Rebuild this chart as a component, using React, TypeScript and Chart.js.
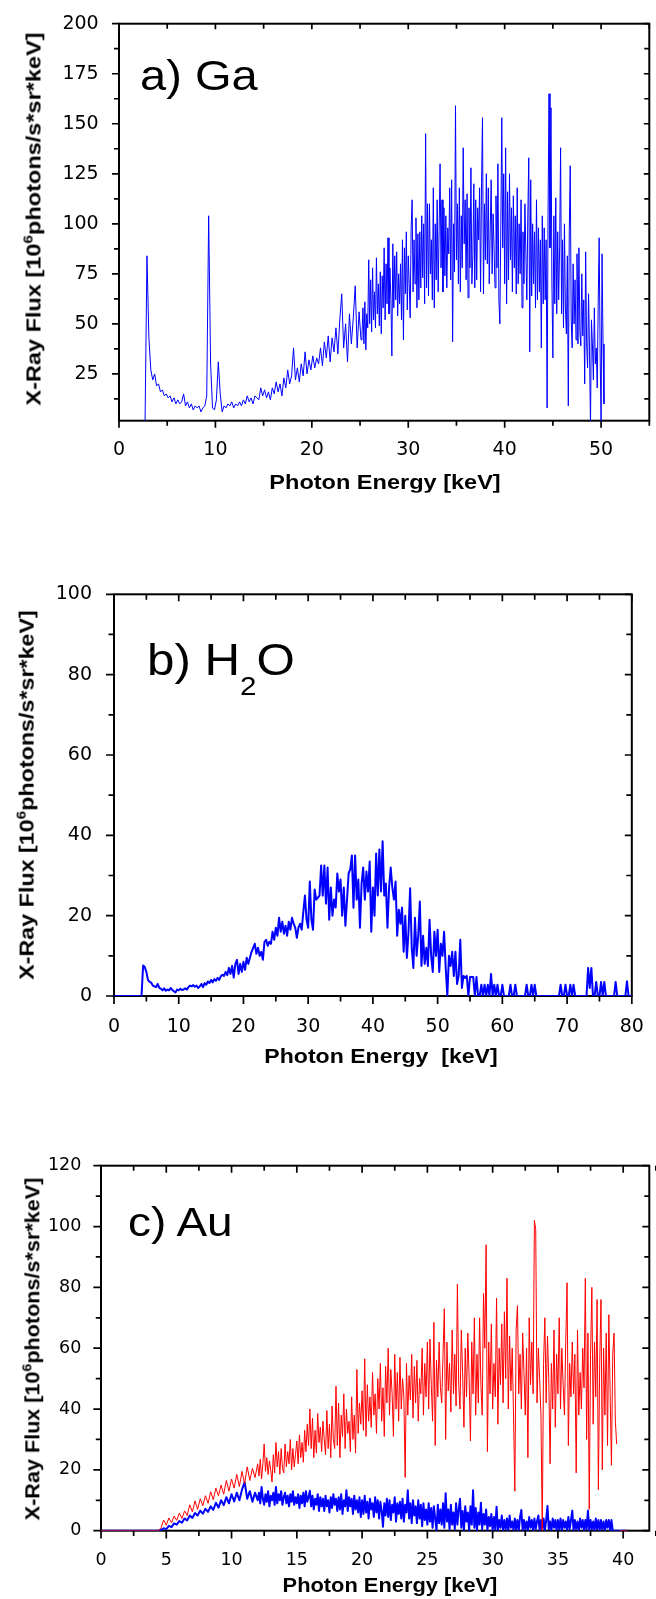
import React, { useEffect, useRef } from "react";
import { Chart, registerables } from "chart.js";

Chart.register(...registerables);

const TEXT_FONT = '"Liberation Sans", Arial, Helvetica, sans-serif';
const TICK_FONT = '"DejaVu Sans", "Liberation Sans", Arial, sans-serif';

// ---------- a) Ga ----------
// low-energy part: 2.7 keV + 0.2 keV steps (up to 25.1 keV)
const GA_LOW_START = 2.7;
const GA_LOW_STEP = 0.2;
const GA_LOW = [
  0, 84, 43, 27, 22, 25, 19, 20, 16, 17,
  14, 15, 13, 14, 11, 13, 10, 12, 10, 11,
  15, 9, 11, 8, 10, 7, 9, 8, 9, 6,
  8, 9, 14, 104, 30, 8, 7, 12, 31, 15,
  6, 9, 8, 10, 9, 11, 8, 10, 9, 11,
  9, 12, 10, 14, 11, 13, 10, 14, 13, 12,
  18, 14, 17, 13, 16, 12, 18, 15, 21, 16,
  20, 14, 23, 18, 27, 20, 24, 38, 22, 28,
  21, 30, 24, 36, 25, 32, 27, 34, 28, 33,
  30, 38, 29, 41, 33, 44, 31, 43, 36, 48,
  35, 52, 65, 38, 50, 31, 55, 40, 53, 69,
  38, 56, 42,
];
// high-energy part: 25.2 keV + 0.1 keV steps (up to 50.3 keV)
const GA_HIGH_START = 25.2;
const GA_HIGH_STEP = 0.1;
const GA_HIGH = [
  44, 58, 40, 61, 37, 55, 48, 82, 50, 72,
  46, 78, 52, 66, 48, 83, 55, 70, 49, 76,
  45, 74, 58, 88, 52, 80, 60, 93, 55, 78,
  62, 34, 90, 58, 84, 62, 86, 54, 75, 60,
  80, 52, 92, 42, 88, 65, 96, 57, 84, 70,
  53, 98, 112, 66, 92, 70, 103, 58, 95, 62,
  96, 68, 104, 73, 100, 60, 145, 68, 110, 64,
  110, 75, 92, 62, 118, 58, 100, 72, 112, 66,
  96, 130, 78, 112, 66, 108, 74, 104, 68, 98,
  85, 118, 72, 122, 41, 100, 76, 159, 82, 110,
  70, 118, 66, 104, 78, 138, 90, 112, 72, 115,
  63, 108, 78, 128, 70, 84, 120, 68, 112, 72,
  108, 92, 118, 66, 120, 153, 65, 110, 82, 125,
  80, 118, 70, 96, 122, 75, 105, 88, 68, 114,
  78, 130, 62, 50, 98, 153, 88, 125, 70, 138,
  60, 116, 72, 125, 82, 108, 66, 114, 78, 104,
  65, 118, 70, 100, 75, 112, 58, 96, 70, 110,
  85, 62, 104, 133, 36, 122, 64, 100, 70, 96,
  58, 112, 62, 98, 66, 92, 38, 104, 60, 98,
  62, 92, 8, 105, 165, 88, 158, 70, 33, 104,
  60, 113, 55, 96, 62, 88, 138, 55, 92, 48,
  100, 58, 45, 84, 9, 96, 129, 52, 38, 80,
  50, 72, 42, 85, 40, 88, 46, 39, 75, 44,
  62, 20, 86, 40, 28, 65, 36, 0, 52, 40,
  22, 58, 30, 38, 18, 60, 93, 35, 0, 85,
  40, 10,
];
const GA_X_TICKS = [0, 10, 20, 30, 40, 50];
const GA_Y_TICKS = [25, 50, 75, 100, 125, 150, 175, 200];

// ---------- b) H2O : 0 keV + 0.25 keV steps ----------
const H2O_START = 0;
const H2O_STEP = 0.25;
const H2O_FLUX = [
  0, 0, 0, 0, 0, 0, 0, 0, 0, 0,
  0, 0, 0, 0, 0, 0, 0, 0, 7.6, 7.2,
  6.0, 4.0, 3.5, 3.3, 2.6, 2.4, 2.2, 3.0, 2.0, 1.8,
  1.4, 1.9, 1.3, 1.6, 1.4, 2.0, 1.5, 1.2, 0.9, 1.6,
  1.4, 1.8, 1.5, 1.6, 1.9, 1.6, 2.2, 2.6, 2.4, 2.7,
  2.3, 2.6, 2.0, 2.4, 3.0, 2.2, 3.2, 2.8, 3.6, 3.2,
  4.0, 3.4, 4.2, 3.8, 4.5, 4.0, 4.9, 5.3, 5.0, 6.0,
  5.2, 7.0, 5.5, 7.5, 4.6, 8.0, 9.0, 5.5, 8.0, 6.0,
  8.5, 6.5, 9.5, 8.0, 9.5, 11.0, 12.0, 13.0, 10.5, 12.0,
  10.0, 11.0, 9.0, 13.5, 14.0, 12.5, 13.5, 13.0, 16.0, 14.0,
  17.0, 15.0, 19.5, 16.0, 18.5, 15.5, 17.5, 15.0, 18.5, 16.5,
  19.5, 18.0, 17.0, 14.5, 17.0, 18.0, 16.5, 21.0, 25.0, 19.0,
  17.0, 28.5, 19.0, 16.5, 26.5, 24.0, 24.5, 25.0, 32.5, 25.0,
  32.5, 23.0, 32.0, 19.0, 27.0, 20.0, 24.0, 22.0, 30.5, 26.0,
  29.0, 20.0, 27.0, 17.5, 24.0, 30.5, 31.5, 35.0, 22.0, 35.0,
  24.0, 29.0, 17.0, 28.0, 32.0, 24.0, 31.0, 26.0, 33.5, 16.0,
  27.0, 20.0, 35.5, 25.0, 36.5, 26.0, 38.5, 25.0, 28.0, 17.0,
  27.0, 32.0, 27.0, 24.0, 28.5, 15.0, 21.5, 18.0, 22.0, 11.0,
  20.0, 9.5, 16.0, 26.8, 12.0, 7.0, 19.5, 10.0, 15.0, 23.5,
  7.5, 15.0, 8.0, 12.0, 7.5, 19.0, 10.0, 6.0, 16.0, 10.0,
  16.5, 6.0, 13.0, 10.0, 16.0, 7.0, 0, 10.0, 7.5, 11.0,
  5.0, 11.0, 3.0, 5.0, 14.0, 2.0, 5.0, 4.5, 5.0, 0,
  4.7, 4.7, 4.7, 0, 4.7, 0, 0, 2.8, 0, 2.8,
  0, 2.8, 0, 5.5, 0, 2.8, 0, 2.8, 0, 0,
  2.8, 0, 0, 0, 0, 2.8, 0, 0, 2.8, 0,
  0, 0, 0, 0, 0, 2.8, 0, 0, 2.8, 0,
  2.8, 0, 0, 0, 0, 0, 0, 0, 0, 0,
  0, 0, 0, 0, 0, 0, 2.8, 0, 0, 2.8,
  0, 0, 2.8, 0, 2.8, 0, 0, 0, 0, 0,
  0, 0, 0, 7.0, 2.0, 7.0, 0, 0, 3.5, 0,
  0, 3.5, 0, 3.5, 0, 0, 0, 0, 0, 0,
  3.5, 0, 0, 0, 0, 0, 0, 3.7, 0, 0,
  0,
];
const H2O_X_TICKS = [0, 10, 20, 30, 40, 50, 60, 70, 80];
const H2O_Y_TICKS = [0, 20, 40, 60, 80, 100];

// ---------- c) Au ----------
// low part: 0 keV + 0.2 keV steps (up to 12.0 keV); high part: 12.1 keV + 0.1 keV steps
const AU_LOW_START = 0;
const AU_LOW_STEP = 0.2;
const AU_HIGH_START = 12.1;
const AU_HIGH_STEP = 0.1;
const AU_RED_LOW = [
  0, 0, 0, 0, 0, 0, 0, 0, 0, 0,
  0, 0, 0, 0, 0, 0, 0, 0, 0, 0,
  0, 0, 0, 1.0, 3.5, 1.8, 4.2, 2.6, 4.8, 3.4,
  5.8, 4.0, 6.5, 5.0, 8.5, 6.2, 9.8, 7.0, 10.5, 8.2,
  11.5, 9.0, 12.8, 10.2, 14.0, 11.5, 15.0, 12.0, 16.5, 13.0,
  17.0, 14.0, 18.5, 14.5, 19.5, 15.5, 21.0, 16.5, 20.5, 17.5,
  22.0,
];
const AU_RED_HIGH = [
  18.0, 23.5, 17.0, 22.0, 28.5, 19.5, 24.0, 18.5, 23.0, 20.0,
  16.0, 25.0, 19.0, 29.0, 21.0, 26.0, 18.5, 27.0, 20.5, 19.0,
  28.5, 21.0, 26.0, 22.0, 30.0, 20.0, 27.0, 21.0, 25.0, 29.5,
  22.0, 31.5, 24.0, 29.0, 22.5, 33.0, 26.0, 35.0, 28.0, 40.0,
  27.0, 37.0, 24.0, 33.0, 25.5, 38.5, 29.0, 34.0, 26.0, 36.0,
  30.0, 25.0, 39.5, 27.0, 35.0, 24.0, 41.0, 30.0, 27.0, 47.5,
  28.0, 42.0, 24.0, 38.0, 31.0, 45.0, 27.0, 40.0, 32.0, 36.0,
  26.0, 44.0, 30.0, 38.0, 25.5, 53.0, 32.0, 42.0, 35.0, 46.0,
  33.0, 56.5, 31.0, 48.0, 36.0, 44.0, 34.0, 52.0, 38.0, 45.0,
  32.0, 50.0, 40.0, 55.0, 36.0, 47.0, 31.0, 54.0, 42.0, 60.0,
  38.0, 53.0, 45.0, 31.0, 58.0, 40.0, 52.0, 36.0, 57.0, 40.0,
  50.0, 44.0, 17.5, 55.0, 38.0, 51.0, 43.0, 58.0, 37.0, 54.0,
  42.0, 56.0, 36.0, 50.0, 45.0, 60.0, 38.0, 55.0, 44.0, 62.0,
  40.0, 63.0, 48.0, 36.0, 68.5, 28.0, 56.0, 44.0, 62.0, 47.0,
  42.0, 58.0, 73.0, 30.0, 62.0, 46.0, 55.0, 39.0, 66.0, 45.0,
  58.0, 41.0, 81.0, 48.0, 40.0, 66.0, 52.0, 34.0, 60.0, 44.0,
  65.0, 50.0, 29.5, 62.0, 45.0, 70.0, 38.0, 58.0, 42.0, 70.0,
  48.0, 38.0, 78.0, 60.0, 94.0, 26.0, 62.0, 45.0, 68.0, 40.0,
  55.0, 44.0, 76.5, 35.0, 60.0, 48.0, 68.0, 42.0, 72.0, 50.0,
  83.0, 40.0, 64.0, 46.0, 60.0, 38.0, 13.0, 66.0, 74.0, 45.0,
  58.0, 40.0, 65.0, 52.0, 38.0, 60.0, 24.0, 70.0, 48.0, 62.0,
  45.0, 102.0, 99.0, 42.0, 60.0, 50.0, 38.0, 0, 55.0, 70.0,
  42.0, 64.0, 50.0, 22.0, 55.0, 40.0, 66.0, 34.0, 58.0, 45.0,
  70.0, 40.0, 60.0, 48.0, 38.0, 62.0, 81.5, 28.0, 55.0, 44.0,
  62.0, 45.0, 58.0, 19.0, 66.0, 38.0, 52.0, 40.0, 60.0, 47.0,
  83.0, 30.0, 65.0, 7.0, 58.0, 80.0, 35.0, 62.0, 44.0, 76.0,
  13.5, 55.0, 76.0, 20.0, 60.0, 38.0, 65.0, 28.0, 71.0, 45.0,
  21.5, 58.0, 65.0, 36.0, 28.5, null, 0, 0, 0, 0,
  0, 0, 0,
];
const AU_BLUE_LOW = [
  0, 0, 0, 0, 0, 0, 0, 0, 0, 0,
  0, 0, 0, 0, 0, 0, 0, 0, 0, 0,
  0, 0, 0, 0.3, 0.8, 0.5, 1.6, 1.2, 2.4, 2.0,
  3.2, 2.6, 4.0, 3.4, 5.0, 4.2, 5.8, 5.0, 6.6, 5.6,
  7.2, 6.2, 8.0, 6.8, 9.2, 7.6, 10.0, 8.4, 11.0, 9.0,
  12.0, 9.6, 12.5, 10.0, 13.5, 16.0, 10.5, 13.0, 9.5, 12.5,
  10.0,
];
const AU_BLUE_HIGH = [
  12.5, 9.0, 14.4, 10.5, 8.5, 12.0, 9.5, 13.0, 8.0, 11.5,
  10.0, 12.5, 8.5, 14.4, 9.0, 12.0, 10.0, 13.0, 8.5, 11.0,
  12.5, 9.0, 11.5, 8.0, 12.0, 9.5, 13.0, 8.5, 11.0, 9.0,
  12.0, 7.5, 11.5, 9.0, 12.5, 8.0, 13.0, 9.5, 11.0, 13.1,
  8.0, 11.5, 7.0, 10.5, 8.5, 12.0, 6.5, 11.0, 8.0, 10.5,
  6.5, 11.5, 8.0, 10.0, 6.0, 11.0, 7.5, 12.0, 8.5, 10.5,
  6.5, 11.0, 7.0, 12.0, 5.5, 10.0, 8.0, 13.3, 6.5, 11.0,
  8.0, 10.5, 5.5, 11.5, 7.0, 10.0, 6.0, 11.0, 4.5, 10.0,
  5.5, 11.5, 6.0, 9.5, 4.0, 10.5, 7.0, 9.0, 4.5, 11.0,
  6.0, 10.0, 4.0, 9.5, 6.5, 1.3, 9.0, 5.0, 10.5, 4.5,
  10.0, 3.5, 8.5, 6.0, 11.0, 3.0, 9.0, 5.5, 9.5, 4.0,
  10.5, 3.0, 8.5, 6.0, 13.3, 4.0, 9.0, 2.5, 10.0, 5.0,
  8.0, 2.5, 10.0, 4.0, 8.5, 1.5, 9.0, 3.5, 7.0, 2.0,
  9.0, 3.0, 7.5, 1.0, 8.0, 4.0, 0, 8.5, 2.5, 7.0,
  2.0, 9.0, 1.0, 12.3, 3.0, 7.0, 0.5, 8.5, 2.0, 6.0,
  0.5, 9.0, 2.0, 7.0, 10.5, 1.0, 6.5, 0, 8.0, 3.0,
  6.0, 0, 8.0, 2.0, 13.3, 1.0, 7.5, 0, 6.0, 2.0,
  9.2, 0.5, 5.5, 2.0, 7.0, 0, 4.5, 1.5, 5.5, 0,
  4.5, 0.5, 7.9, 0, 3.5, 1.0, 5.0, 0, 3.5, 0.5,
  4.0, 0, 5.0, 1.0, 3.0, 0, 4.0, 0.5, 3.5, 0,
  4.5, 6.8, 0, 3.5, 0.5, 3.0, 0, 4.5, 1.0, 3.5,
  0, 4.0, 0.5, 3.0, 5.0, 0, 3.5, 0.5, 4.0, 0,
  3.5, 8.1, 0.5, 3.0, 0, 4.0, 1.0, 3.5, 0, 3.5,
  0.5, 4.0, 0, 3.5, 1.0, 3.0, 0, 4.5, 0.5, 3.5,
  6.6, 0, 3.5, 0.5, 3.0, 0, 4.0, 1.0, 3.5, 0,
  3.5, 0.5, 6.6, 0, 3.5, 0.5, 3.0, 0, 4.0, 0.5,
  3.5, 0, 3.5, 0.5, 3.0, 0, 3.5, 1.0, 3.5, 0,
  3.5, 0, 0, 0, 0, 0, 0, 0, 0, 0,
  0, 0, 0,
];
const AU_X_TICKS = [0, 5, 10, 15, 20, 25, 30, 35, 40];
const AU_Y_TICKS = [0, 20, 40, 60, 80, 100, 120];

type Segment = { start: number; step: number; values: (number | null)[] };

type Series = {
  segments: Segment[];
  color: string;
  width: number;
  order: number;
};

type PanelCfg = {
  top: number;
  height: number;
  yAxisW: number;
  xAxisH: number;
  padTop: number;
  padRight: number;
  xMin: number;
  xMax: number;
  yMin: number;
  yMax: number;
  xTicks: number[];
  yTicks: number[];
  xMinor: number;
  yMinor: number;
  xPad: number;
  yPad: number;
  tickSize: number;
  outMajor: number;
  outMinor: number;
  inMajor: number;
  inMinor: number;
  series: Series[];
};

const PANEL_A: PanelCfg = {
  top: 0, height: 500, yAxisW: 119, xAxisH: 79.3, padTop: 19, padRight: 6.7,
  xMin: 0, xMax: 55, yMin: 1.6, yMax: 200,
  xTicks: GA_X_TICKS, yTicks: GA_Y_TICKS, xMinor: 5, yMinor: 12.5,
  xPad: 10.4, yPad: 12.3, tickSize: 19,
  outMajor: 7, outMinor: 5, inMajor: 5.5, inMinor: 5,
  series: [
    {
      segments: [
        { start: GA_LOW_START, step: GA_LOW_STEP, values: GA_LOW },
        { start: GA_HIGH_START, step: GA_HIGH_STEP, values: GA_HIGH },
      ],
      color: "#0000ff",
      width: 1,
      order: 0,
    },
  ],
};

const PANEL_B: PanelCfg = {
  top: 560, height: 500, yAxisW: 114, xAxisH: 64, padTop: 34.3, padRight: 12.5,
  xMin: 0, xMax: 80, yMin: 0, yMax: 100,
  xTicks: H2O_X_TICKS, yTicks: H2O_Y_TICKS, xMinor: 5, yMinor: 10,
  xPad: 12.1, yPad: 14, tickSize: 19,
  outMajor: 8, outMinor: 5.5, inMajor: 7, inMinor: 5.5,
  series: [
    {
      segments: [{ start: H2O_START, step: H2O_STEP, values: H2O_FLUX }],
      color: "#0000ff",
      width: 2,
      order: 0,
    },
  ],
};

const PANEL_C: PanelCfg = {
  top: 1120, height: 479, yAxisW: 101, xAxisH: 68.3, padTop: 45.7, padRight: 6.7,
  xMin: 0, xMax: 42, yMin: 0, yMax: 120,
  xTicks: AU_X_TICKS, yTicks: AU_Y_TICKS, xMinor: 2.5, yMinor: 10,
  xPad: 10.8, yPad: 11.7, tickSize: 17.5,
  outMajor: 7.7, outMinor: 5.2, inMajor: 7, inMinor: 5,
  series: [
    {
      segments: [
        { start: AU_LOW_START, step: AU_LOW_STEP, values: AU_RED_LOW },
        { start: AU_HIGH_START, step: AU_HIGH_STEP, values: AU_RED_HIGH },
      ],
      color: "#ff0000",
      width: 1,
      order: 0,
    },
    {
      segments: [
        { start: AU_LOW_START, step: AU_LOW_STEP, values: AU_BLUE_LOW },
        { start: AU_HIGH_START, step: AU_HIGH_STEP, values: AU_BLUE_HIGH },
      ],
      color: "#0000ff",
      width: 2,
      order: 1,
    },
  ],
};

function toPoints(s: Series) {
  const pts: { x: number; y: number | null }[] = [];
  s.segments.forEach((seg) => {
    seg.values.forEach((v, i) => {
      pts.push({ x: Math.round((seg.start + i * seg.step) * 1000) / 1000, y: v });
    });
  });
  return pts;
}

function isMultiple(v: number, step: number) {
  const r = v / step;
  return Math.abs(r - Math.round(r)) < 1e-6;
}

function makeFrame(cfg: PanelCfg) {
  return {
    id: "frameTicks",
    beforeDatasetsDraw(chart: any) {
      const { ctx, chartArea: a, scales } = chart;
      const xs = scales.x;
      const ys = scales.y;
      const majX = cfg.xTicks[1] - cfg.xTicks[0];
      const majY = cfg.yTicks[1] - cfg.yTicks[0];
      ctx.save();
      ctx.strokeStyle = "#000";
      ctx.lineWidth = 2;
      ctx.strokeRect(a.left, a.top, a.right - a.left, a.bottom - a.top);
      ctx.lineWidth = 1.7;
      ctx.beginPath();
      const nx = Math.round((cfg.xMax - cfg.xMin) / cfg.xMinor);
      for (let i = 0; i <= nx; i++) {
        const v = cfg.xMin + i * cfg.xMinor;
        const px = xs.getPixelForValue(v);
        const major = isMultiple(v, majX);
        ctx.moveTo(px, a.bottom);
        ctx.lineTo(px, a.bottom + (major ? cfg.outMajor : cfg.outMinor));
        ctx.moveTo(px, a.top);
        ctx.lineTo(px, a.top + (major ? cfg.inMajor : cfg.inMinor));
      }
      const firstY = Math.ceil(cfg.yMin / cfg.yMinor - 1e-9);
      const lastY = Math.floor(cfg.yMax / cfg.yMinor + 1e-9);
      for (let j = firstY; j <= lastY; j++) {
        const v = j * cfg.yMinor;
        const py = ys.getPixelForValue(v);
        const major = isMultiple(v, majY);
        ctx.moveTo(a.left, py);
        ctx.lineTo(a.left - (major ? cfg.outMajor : cfg.outMinor), py);
        ctx.moveTo(a.right, py);
        ctx.lineTo(a.right - (major ? cfg.inMajor : cfg.inMinor), py);
      }
      ctx.stroke();
      ctx.restore();
    },
  };
}

function Panel({ cfg }: { cfg: PanelCfg }) {
  const ref = useRef<HTMLCanvasElement | null>(null);
  useEffect(() => {
    if (!ref.current) return;
    const tickFont = { family: TICK_FONT, size: cfg.tickSize, weight: "normal" as const };
    const chart = new Chart(ref.current, {
      type: "line",
      data: {
        datasets: cfg.series.map((s) => ({
          data: toPoints(s),
          borderColor: s.color,
          backgroundColor: s.color,
          borderWidth: s.width,
          pointRadius: 0,
          pointHoverRadius: 0,
          tension: 0,
          fill: false,
          spanGaps: false,
          borderJoinStyle: "round" as const,
          order: s.order,
        })),
      },
      options: {
        animation: false,
        responsive: false,
        maintainAspectRatio: false,
        events: [],
        layout: { padding: { left: 0, right: cfg.padRight, top: cfg.padTop, bottom: 0 } },
        plugins: { legend: { display: false }, tooltip: { enabled: false }, title: { display: false } },
        scales: {
          x: {
            type: "linear",
            min: cfg.xMin,
            max: cfg.xMax,
            grid: { display: false },
            border: { display: false },
            afterBuildTicks: (s: any) => {
              s.ticks = cfg.xTicks.map((v) => ({ value: v }));
            },
            afterFit: (s: any) => {
              s.height = cfg.xAxisH;
            },
            ticks: {
              autoSkip: false,
              maxRotation: 0,
              minRotation: 0,
              padding: cfg.xPad,
              color: "#000",
              font: tickFont,
              callback: (v: any) => String(v),
            },
          },
          y: {
            type: "linear",
            min: cfg.yMin,
            max: cfg.yMax,
            grid: { display: false },
            border: { display: false },
            afterBuildTicks: (s: any) => {
              s.ticks = cfg.yTicks.map((v) => ({ value: v }));
            },
            afterFit: (s: any) => {
              s.width = cfg.yAxisW;
            },
            ticks: {
              autoSkip: false,
              padding: cfg.yPad,
              color: "#000",
              font: tickFont,
              callback: (v: any) => String(v),
            },
          },
        },
      },
      plugins: [makeFrame(cfg)],
    } as any);
    return () => chart.destroy();
  }, [cfg]);
  return (
    <canvas
      ref={ref}
      width={656}
      height={cfg.height}
      style={{ position: "absolute", left: 0, top: cfg.top, width: 656, height: cfg.height }}
    />
  );
}

const STRETCH = 1.12;

function YTitle({ cx, cy, size }: { cx: number; cy: number; size: number }) {
  return (
    <div
      style={{
        position: "absolute",
        left: cx,
        top: cy,
        transform: `translate(-50%, -50%) rotate(-90deg) scaleX(${STRETCH})`,
        whiteSpace: "nowrap",
        fontFamily: TEXT_FONT,
        fontWeight: "bold",
        fontSize: size,
        lineHeight: 1,
        color: "#000",
      }}
    >
      X-Ray Flux [10
      <span style={{ fontSize: "0.65em", position: "relative", top: "-0.62em", lineHeight: 0 }}>6</span>
      photons/s*sr*keV]
    </div>
  );
}

function XTitle({ cx, cy, size, text }: { cx: number; cy: number; size: number; text: string }) {
  return (
    <div
      style={{
        position: "absolute",
        left: cx,
        top: cy,
        transform: `translate(-50%, -50%) scaleX(${STRETCH})`,
        whiteSpace: "pre",
        fontFamily: TEXT_FONT,
        fontWeight: "bold",
        fontSize: size,
        lineHeight: 1,
        color: "#000",
      }}
    >
      {text}
    </div>
  );
}

function PanelLabel({ left, baseline, size, children }: { left: number; baseline: number; size: number; children: any }) {
  return (
    <div
      style={{
        position: "absolute",
        left,
        top: baseline - 0.8465 * size,
        transform: `scaleX(${STRETCH})`,
        transformOrigin: "left top",
        whiteSpace: "nowrap",
        fontFamily: TEXT_FONT,
        fontSize: size,
        lineHeight: 1,
        color: "#000",
      }}
    >
      {children}
    </div>
  );
}

export default function App() {
  return (
    <div style={{ position: "absolute", left: 0, top: 0, width: 656, height: 1599, background: "#fff", overflow: "hidden" }}>
      <Panel cfg={PANEL_A} />
      <Panel cfg={PANEL_B} />
      <Panel cfg={PANEL_C} />

      <YTitle cx={33} cy={219} size={21} />
      <YTitle cx={27} cy={795} size={20.8} />
      <YTitle cx={32.5} cy={1349} size={19.3} />

      <XTitle cx={385} cy={481.2} size={21} text="Photon Energy [keV]" />
      <XTitle cx={381} cy={1056} size={20.6} text="Photon Energy  [keV]" />
      <XTitle cx={390} cy={1585.7} size={19.5} text="Photon Energy [keV]" />

      <PanelLabel left={140} baseline={91} size={42}>a) Ga</PanelLabel>
      <PanelLabel left={147} baseline={675} size={44}>
        b) H
        <span style={{ fontSize: "0.6em", position: "relative", top: "0.76em", lineHeight: 0 }}>2</span>
        O
      </PanelLabel>
      <PanelLabel left={128} baseline={1236.7} size={41}>c) Au</PanelLabel>
    </div>
  );
}
